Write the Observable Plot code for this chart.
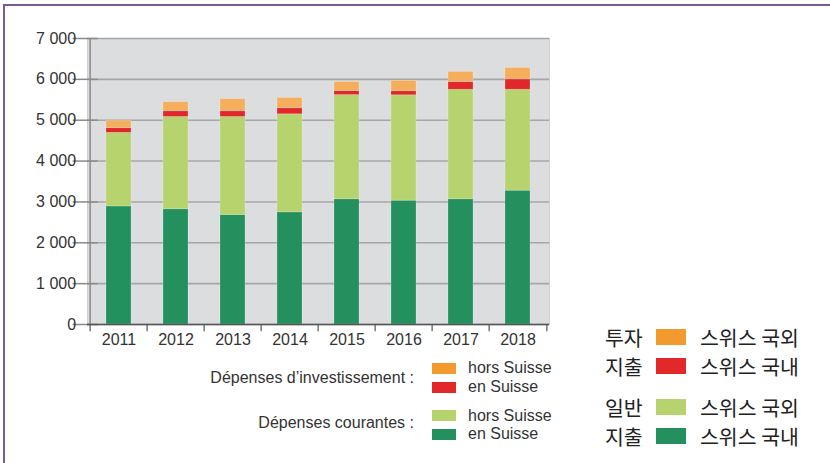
<!DOCTYPE html>
<html>
<head>
<meta charset="utf-8">
<script src="https://cdn.jsdelivr.net/npm/d3@7"></script>
<script src="https://cdn.jsdelivr.net/npm/@observablehq/plot@0.6"></script>
<style>
  html, body { margin: 0; padding: 0; background: #fff; }
  #wrap { position: relative; width: 830px; height: 463px; overflow: hidden; font-family: "Liberation Sans", Arial, sans-serif; color: #333; }
  #border { position: absolute; left: 3px; top: 4px; width: 840px; height: 470px; border-top: 2px solid #7d5a93; border-left: 2px solid #7d5a93; }
  #chart { position: absolute; left: 0; top: 0; }
  .fr { position: absolute; font-size: 16px; color: #333; white-space: nowrap; line-height: 1; }
  .sw { position: absolute; width: 24px; height: 11px; }
  .ko { position: absolute; font-family: "Noto Sans CJK KR", sans-serif; font-size: 20.5px; color: #222; white-space: nowrap; line-height: 1; }
  .ksw { position: absolute; width: 30px; height: 16px; }
</style>
</head>
<body>
<div id="wrap">
  <div id="border"></div>
  <div id="chart"></div>
  <div id="legend"></div>
</div>
<script>
// ---- Data ----
const years = ["2011", "2012", "2013", "2014", "2015", "2016", "2017", "2018"];
const courantesEnSuisse   = [2890, 2820, 2680, 2745, 3065, 3030, 3065, 3275];
const courantesHorsSuisse = [1800, 2260, 2400, 2400, 2550, 2580, 2680, 2470];
const investEnSuisse      = [115, 140, 140, 147, 100, 100, 190, 255];
const investHorsSuisse    = [180, 220, 295, 253, 220, 250, 245, 277];
const seriesNames = ["Courantes en Suisse", "Courantes hors Suisse", "Investissement en Suisse", "Investissement hors Suisse"];
const seriesColors = ["#23905e", "#b7d36e", "#e0282a", "#f4ae5c"];
const legendColors = ["#23905e", "#b7d36e", "#e1282b", "#f29a2e"];
const yTicks = [0, 1000, 2000, 3000, 4000, 5000, 6000, 7000];
const yTickLabels = ["0", "1 000", "2 000", "3 000", "4 000", "5 000", "6 000", "7 000"];

const seriesValues = [courantesEnSuisse, courantesHorsSuisse, investEnSuisse, investHorsSuisse];
const data = [];
years.forEach((yr, i) => {
  seriesNames.forEach((s, k) => data.push({year: yr, series: s, value: seriesValues[k][i]}));
});

const step = (549 - 87) / years.length;

const chart = Plot.plot({
  width: 560,
  height: 350,
  marginLeft: 87,
  marginRight: 11,
  marginTop: 38,
  marginBottom: 26,
  style: {fontFamily: "'Liberation Sans', Arial, sans-serif", fontSize: "16px", color: "#333", background: "transparent"},
  x: {domain: years, paddingInner: 0.57, paddingOuter: 0.285, axis: null},
  y: {domain: [0, 7000], axis: null},
  color: {domain: seriesNames, range: seriesColors},
  marks: [
    Plot.frame({fill: "#dcdddf", stroke: "#d0d0d2"}),
    Plot.ruleY(yTicks, {stroke: "#a6a6a8", strokeWidth: 1.6}),
    Plot.barY(data, {x: "year", y: "value", fill: "series", order: seriesNames, stroke: "#ffffff", strokeOpacity: 0.25, strokeWidth: 0.8}),
    // y axis
    Plot.ruleX([0], {x: () => years[0], dx: -step / 2, y1: 0, y2: 7000, stroke: "#8a8a8a", strokeWidth: 1.5}),
    Plot.tickY(yTicks, {y: d => d, x: () => years[0], dx: -step / 2 - 4.5, stroke: "#8a8a8a", strokeWidth: 1.5}),
    Plot.text(yTicks, {y: d => d, x: () => years[0], dx: -step / 2 - 14, text: (d, i) => yTickLabels[i], textAnchor: "end", fontSize: 16, fill: "#333"}),
    // x axis
    Plot.ruleY([0], {stroke: "#555", strokeWidth: 1.5}),
    Plot.ruleX(years, {x: d => d, dx: -step / 2, y1: 0, y2: -180, stroke: "#555", strokeWidth: 1.2}),
    Plot.ruleX([years[years.length - 1]], {x: d => d, dx: step / 2, y1: 0, y2: -180, stroke: "#555", strokeWidth: 1.2}),
    Plot.text(years, {x: d => d, y: 0, dy: 15, text: d => d, fontSize: 16, fill: "#333"})
  ]
});
document.getElementById("chart").appendChild(chart);

// ---- Legends ----
const lg = document.getElementById("legend");
function add(cls, css, txt) {
  const d = document.createElement("div");
  d.className = cls;
  Object.assign(d.style, css);
  if (txt) d.textContent = txt;
  lg.appendChild(d);
}
// French legend
const frGroups = ["Dépenses d’investissement :", "Dépenses courantes :"];
const frItems = ["hors Suisse", "en Suisse"];
add("fr", {right: (830 - 414) + "px", top: "370px"}, frGroups[0]);
add("fr", {right: (830 - 414) + "px", top: "415px"}, frGroups[1]);
add("sw", {left: "432px", top: "363px", background: legendColors[3]});
add("sw", {left: "432px", top: "382px", background: legendColors[2]});
add("sw", {left: "432px", top: "410px", background: legendColors[1]});
add("sw", {left: "432px", top: "429px", background: legendColors[0]});
add("fr", {left: "468px", top: "360px"}, frItems[0]);
add("fr", {left: "468px", top: "379px"}, frItems[1]);
add("fr", {left: "468px", top: "408px"}, frItems[0]);
add("fr", {left: "468px", top: "426px"}, frItems[1]);
// Korean legend
const koGroups = ["투자", "지출", "일반", "지출"];
const koItems = ["스위스 국외", "스위스 국내", "스위스 국외", "스위스 국내"];
const koTops = [329, 358, 399, 428];
const koColors = [legendColors[3], legendColors[2], legendColors[1], legendColors[0]];
koTops.forEach((t, i) => {
  add("ko", {left: "605px", top: (t - 2) + "px"}, koGroups[i]);
  add("ksw", {left: "656px", top: t + "px", background: koColors[i]});
  add("ko", {left: "700px", top: (t - 2) + "px"}, koItems[i]);
});
</script>
</body>
</html>
